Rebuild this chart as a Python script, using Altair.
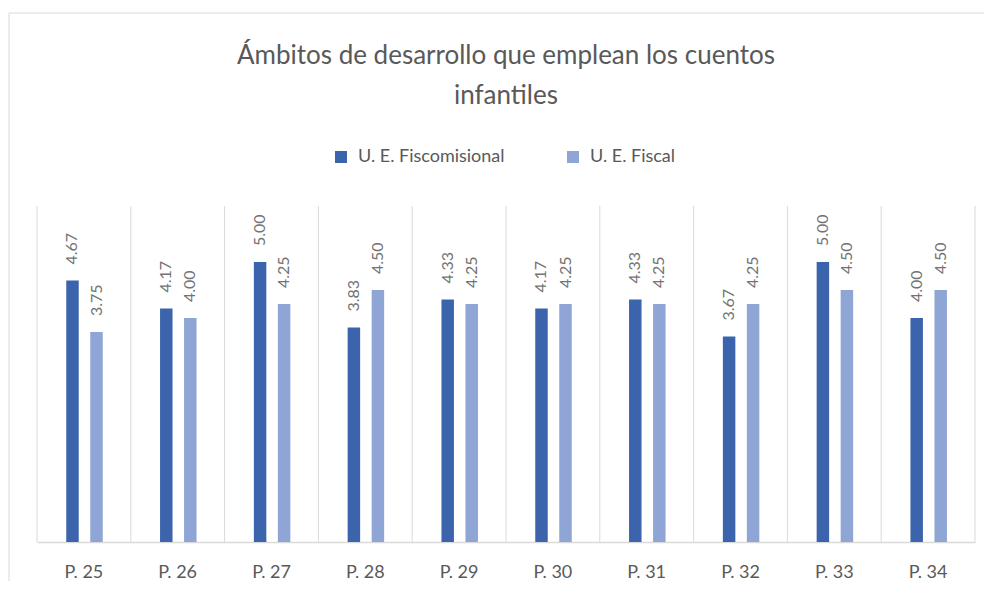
import altair as alt
import pandas as pd

cats = ["P. 25", "P. 26", "P. 27", "P. 28", "P. 29", "P. 30", "P. 31", "P. 32", "P. 33", "P. 34"]
series = ["U. E. Fiscomisional", "U. E. Fiscal"]
fiscomisional = [4.67, 4.17, 5.00, 3.83, 4.33, 4.17, 4.33, 3.67, 5.00, 4.00]
fiscal = [3.75, 4.00, 4.25, 4.50, 4.25, 4.25, 4.25, 4.25, 4.50, 4.50]
colors = ["#3b64ad", "#8fa5d6"]
title_lines = ["Ámbitos de desarrollo que emplean los cuentos", "infantiles"]

rows = []
for c, a, b in zip(cats, fiscomisional, fiscal):
    rows.append({"cat": c, "serie": series[0], "val": a})
    rows.append({"cat": c, "serie": series[1], "val": b})
df = pd.DataFrame(rows)
cat_df = pd.DataFrame({"cat": cats})
dummy = pd.DataFrame({"d": [0]})

W, H = 938, 336
FONT = "Lato"

xscale = alt.Scale(domain=cats, paddingInner=0, paddingOuter=0)
xaxis = alt.Axis(
    title=None, ticks=False, grid=False, labelAngle=0,
    labelFont=FONT, labelFontSize=18, labelColor="#595959", labelPadding=21,
    domainColor="#d9d9d9", domainWidth=1.5,
)

grid = alt.Chart(cat_df).mark_rule(color="#d9d9d9", strokeWidth=1).encode(
    x=alt.X("cat:N", scale=xscale, axis=xaxis, bandPosition=0),
    y=alt.value(0), y2=alt.value(H),
)
right_edge = alt.Chart(dummy).mark_rule(color="#d9d9d9", strokeWidth=1).encode(
    x=alt.value(W), y=alt.value(0), y2=alt.value(H)
)

base = alt.Chart(df).encode(
    x=alt.X("cat:N", scale=xscale, axis=xaxis),
    xOffset=alt.XOffset("serie:N", sort=series,
                        scale=alt.Scale(domain=series, range=[29.25, 65.75],
                                        paddingInner=0.48, paddingOuter=0)),
    y=alt.Y("val:Q", scale=alt.Scale(domain=[0, 6]), axis=None),
)

bars = base.mark_bar().encode(
    color=alt.Color(
        "serie:N", sort=series,
        scale=alt.Scale(domain=series, range=colors),
        legend=alt.Legend(
            title=None, orient="none", direction="horizontal",
            legendX=295, legendY=-58, padding=0,
            symbolType="square", symbolSize=144, symbolStrokeWidth=0,
            labelFont=FONT, labelFontSize=18, labelColor="#595959",
            labelOffset=8, columnPadding=59,
        ),
    )
)

labels = base.mark_text(
    angle=270, align="left", baseline="middle", dx=16,
    font=FONT, fontSize=16, color="#737373",
).encode(text=alt.Text("val:Q", format=".2f"))

title = alt.Chart(dummy).mark_text(
    text=title_lines, font=FONT, fontSize=26, color="#595959",
    align="center", baseline="top", lineHeight=40,
).encode(x=alt.value(W / 2), y=alt.value(-163))

border_v = alt.Chart(dummy).mark_rule(color="#d9d9d9", strokeWidth=1).encode(
    x=alt.value(-28), y=alt.value(-193), y2=alt.value(H + 60)
)
border_h = alt.Chart(dummy).mark_rule(color="#d9d9d9", strokeWidth=1).encode(
    x=alt.value(-28), x2=alt.value(W + 60), y=alt.value(-193)
)

chart = alt.layer(grid, right_edge, bars, labels, title, border_v, border_h).properties(
    width=W, height=H,
    autosize=alt.AutoSizeParams(type="none"),
    padding={"left": 29, "top": 198, "right": 9, "bottom": 39},
    background="white",
).configure_view(stroke=None)

chart.save("out.html", embed_options={"renderer": "svg", "actions": False})
